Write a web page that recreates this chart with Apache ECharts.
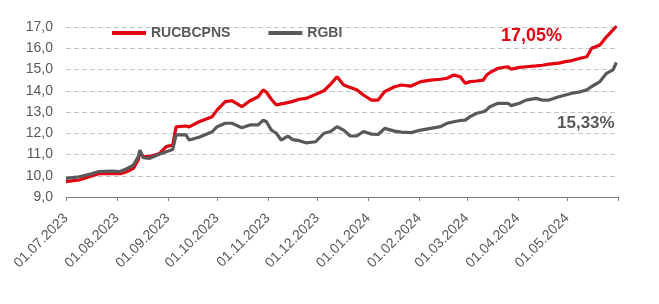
<!DOCTYPE html>
<html>
<head>
<meta charset="utf-8">
<script src="https://cdn.jsdelivr.net/npm/echarts@6/dist/echarts.min.js"></script>
<style>
html,body{margin:0;padding:0;background:#fff;}
#chart{width:659px;height:304px;}
</style>
</head>
<body>
<div id="chart"></div>
<script>
var dates = ['2023-07-01','2023-07-09','2023-07-17','2023-07-21','2023-07-29','2023-08-03','2023-08-07','2023-08-11','2023-08-14','2023-08-15','2023-08-17','2023-08-21','2023-08-27','2023-08-31','2023-09-04','2023-09-06','2023-09-12','2023-09-14','2023-09-20','2023-09-28','2023-10-01','2023-10-06','2023-10-10','2023-10-16','2023-10-21','2023-10-26','2023-10-29','2023-10-31','2023-11-03','2023-11-06','2023-11-09','2023-11-13','2023-11-16','2023-11-20','2023-11-24','2023-11-30','2023-12-05','2023-12-09','2023-12-13','2023-12-17','2023-12-21','2023-12-25','2023-12-29','2024-01-03','2024-01-07','2024-01-11','2024-01-17','2024-01-21','2024-01-27','2024-02-02','2024-02-08','2024-02-14','2024-02-18','2024-02-22','2024-02-26','2024-02-29','2024-03-03','2024-03-07','2024-03-11','2024-03-13','2024-03-15','2024-03-20','2024-03-26','2024-03-28','2024-04-02','2024-04-06','2024-04-12','2024-04-16','2024-04-20','2024-04-26','2024-04-30','2024-05-04','2024-05-09','2024-05-13','2024-05-16','2024-05-21','2024-05-25','2024-05-29','2024-05-31'];
var rucbcpns = [9.72,9.8,10.0,10.1,10.1,10.1,10.19,10.35,10.74,11.13,10.9,10.9,11.05,11.37,11.45,12.3,12.34,12.3,12.54,12.78,13.1,13.49,13.53,13.25,13.53,13.72,14.04,13.93,13.6,13.33,13.38,13.44,13.5,13.6,13.64,13.83,14.0,14.3,14.66,14.27,14.15,14.05,13.8,13.56,13.56,13.96,14.19,14.27,14.22,14.43,14.5,14.54,14.59,14.74,14.66,14.35,14.43,14.46,14.5,14.74,14.85,15.06,15.13,15.01,15.1,15.13,15.17,15.2,15.25,15.3,15.37,15.42,15.53,15.6,16.0,16.15,16.54,16.86,17.05];
var rgbi = [9.88,9.95,10.1,10.2,10.22,10.2,10.33,10.5,10.9,11.2,10.85,10.82,11.02,11.13,11.24,11.92,11.92,11.68,11.81,12.07,12.31,12.47,12.47,12.26,12.39,12.39,12.62,12.54,12.15,12.0,11.68,11.87,11.7,11.65,11.55,11.6,12.0,12.08,12.31,12.15,11.87,11.87,12.08,11.96,11.94,12.23,12.1,12.05,12.03,12.15,12.23,12.31,12.47,12.54,12.6,12.62,12.78,12.94,13.01,13.1,13.25,13.41,13.41,13.3,13.41,13.56,13.64,13.56,13.56,13.72,13.8,13.88,13.95,14.04,14.2,14.43,14.82,14.98,15.33];
var tickMonths = ['2023-07-01','2023-08-01','2023-09-01','2023-10-01','2023-11-01','2023-12-01','2024-01-01','2024-02-01','2024-03-01','2024-04-01','2024-05-01','2024-06-01'];
var labelMonths = tickMonths.slice(0, 11);
var seriesNames = ['RUCBCPNS', 'RGBI'];
var endLabels = ['17,05%', '15,33%'];

function ts(s){var p=s.split('-');return Date.UTC(+p[0],+p[1]-1,+p[2]);}
function pad(n){return (n<10?'0':'')+n;}
function pairs(vals){return dates.map(function(d,i){return [ts(d), vals[i]];});}

var chart = echarts.init(document.getElementById('chart'), null, {renderer:'canvas'});
var txt = '#595959';
chart.setOption({
  animation:false,
  backgroundColor:'#ffffff',
  grid:{left:66,right:41,top:27,bottom:107},
  legend:{
    left:112, top:26, padding:0, itemWidth:34, itemHeight:4, itemGap:38, icon:'rect',
    textStyle:{fontFamily:'Liberation Sans, Arial', fontSize:14, fontWeight:'bold', color:txt},
    data:seriesNames
  },
  xAxis:{
    type:'value',
    min:ts(tickMonths[0]), max:ts(tickMonths[tickMonths.length-1]),
    axisLine:{show:true, lineStyle:{color:'#808080', width:1}},
    axisTick:{show:true, length:4, lineStyle:{color:'#808080'}, customValues:tickMonths.map(ts)},
    axisLabel:{
      customValues:labelMonths.map(ts), rotate:45, color:txt,
      fontFamily:'Liberation Sans, Arial', fontSize:14, margin:19,
      formatter:function(v){var d=new Date(v);return pad(d.getUTCDate())+'.'+pad(d.getUTCMonth()+1)+'.'+d.getUTCFullYear();}
    },
    splitLine:{show:false}
  },
  yAxis:{
    type:'value', min:9, max:17, interval:1,
    axisLine:{show:false}, axisTick:{show:false},
    axisLabel:{color:txt, fontFamily:'Liberation Sans, Arial', fontSize:14, margin:13,
      formatter:function(v){return v.toFixed(1).replace('.', ',');}},
    splitLine:{show:true, lineStyle:{color:'#c4c4c4', type:[5,3], width:1}}
  },
  series:[
    {name:seriesNames[0], type:'line', data:pairs(rucbcpns), showSymbol:false, symbol:'none',
     lineStyle:{color:'#e3000f', width:3.2}, itemStyle:{color:'#e3000f'}},
    {name:seriesNames[1], type:'line', data:pairs(rgbi), showSymbol:false, symbol:'none',
     lineStyle:{color:'#595959', width:3.2}, itemStyle:{color:'#595959'}}
  ],
  graphic:[
    {type:'text', left:501, top:27, style:{text:endLabels[0], fill:'#e3000f', font:'bold 18px Liberation Sans, Arial'}},
    {type:'text', left:557, top:115, style:{text:endLabels[1], fill:'#595959', font:'bold 17px Liberation Sans, Arial'}}
  ]
});
</script>
</body>
</html>
